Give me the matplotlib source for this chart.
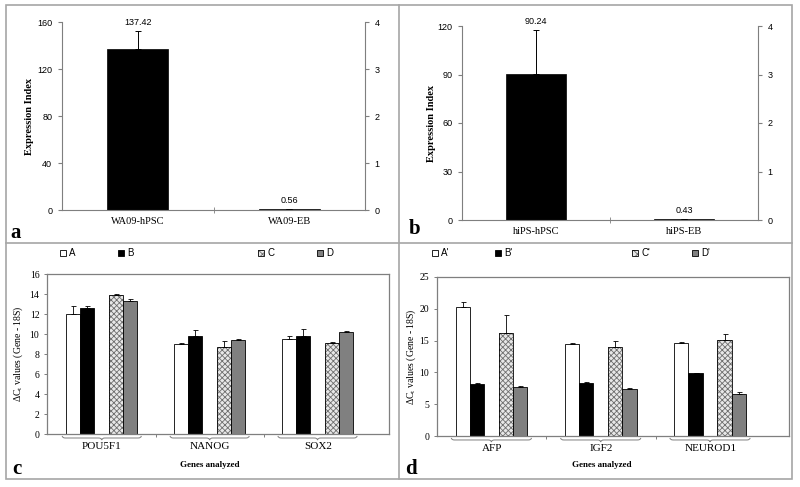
import numpy as np
import matplotlib
matplotlib.use("Agg")
import matplotlib.pyplot as plt
from matplotlib.patches import Rectangle, PathPatch
from matplotlib.path import Path
from matplotlib.lines import Line2D
import matplotlib.transforms as mtransforms

plt.rcParams['mathtext.fontset'] = 'custom'
plt.rcParams['mathtext.rm'] = 'Liberation Serif'
plt.rcParams['hatch.linewidth'] = 0.6

SERIF = 'Liberation Serif'
SANS = 'Liberation Sans'

# ---------------- data ----------------
a_labels = ['WA09-hPSC', 'WA09-EB']
a_values = [137.42, 0.56]
a_errors = [15.2, 0.3]

b_labels = ['hiPS-hPSC', 'hiPS-EB']
b_values = [90.24, 0.43]
b_errors = [27.3, 0.4]

c_genes = ['POU5F1', 'NANOG', 'SOX2']
c_series = ['A', 'B', 'C', 'D']
c_A = [12.05, 9.0, 9.5]
c_B = [12.65, 9.8, 9.85]
c_C = [13.95, 8.7, 9.15]
c_D = [13.3, 9.4, 10.2]
c_A_err = [0.75, 0.1, 0.3]
c_B_err = [0.2, 0.6, 0.62]
c_C_err = [0.1, 0.58, 0.1]
c_D_err = [0.18, 0.15, 0.15]

d_genes = ['AFP', 'IGF2', 'NEUROD1']
d_series = ["A'", "B'", "C'", "D'"]
d_A = [20.3, 14.5, 14.6]
d_B = [8.25, 8.35, 9.9]
d_C = [16.2, 14.05, 15.1]
d_D = [7.7, 7.45, 6.55]
d_A_err = [0.7, 0.05, 0.2]
d_B_err = [0.05, 0.08, 0.08]
d_C_err = [2.8, 0.85, 1.0]
d_D_err = [0.15, 0.05, 0.38]

W, H = 800, 487
fig = plt.figure(figsize=(8, 4.87), dpi=100)

def ax_at(l, r, t, b):
    return fig.add_axes([l / W, 1 - b / H, (r - l) / W, (b - t) / H])

def fx(x):
    return x / W

def fy(y):
    return 1 - y / H

GRAY = '#7f7f7f'
FRAME = '#a6a6a6'

# outer frame and dividers
fig.add_artist(Rectangle((fx(6), fy(479)), fx(792) - fx(6), fy(5) - fy(479),
                         transform=fig.transFigure, fill=False, edgecolor=FRAME, lw=1.2))
fig.add_artist(Line2D([fx(399), fx(399)], [fy(5), fy(479)], transform=fig.transFigure,
                      color=FRAME, lw=1.2))
fig.add_artist(Line2D([fx(6), fx(792)], [fy(243), fy(243)], transform=fig.transFigure,
                      color=FRAME, lw=1.2))


def top_panel(box, labels, values, errors, ymax, ystep, letter_xy, ylab_x, letter):
    ax = ax_at(*box)
    x = np.arange(len(labels))
    ax.bar(x, values, width=0.4, color='black', edgecolor='black', lw=0.5)
    ax.errorbar(x, values, yerr=[np.zeros(len(values)), errors], fmt='none',
                ecolor='black', elinewidth=0.7, capsize=2.5, capthick=0.7)
    ax.set_xlim(-0.5, 1.5)
    ax.set_ylim(0, ymax)
    ax.set_yticks(np.arange(0, ymax + 0.1, ystep))
    ax.set_yticklabels([f'{int(v)}' for v in np.arange(0, ymax + 0.1, ystep)],
                       family=SANS, fontsize=6.5)
    ax.set_xticks(x)
    ax.set_xticklabels(labels, family=SERIF, fontsize=7.5)
    ax.tick_params(axis='x', which='major', length=0, pad=5)
    ax.set_xticks([0.5], minor=True)
    ax.tick_params(axis='x', which='minor', length=4, direction='inout', color=GRAY)
    ax.tick_params(axis='y', length=3, color=GRAY, width=0.8, pad=4)
    for s in ['top', 'right']:
        ax.spines[s].set_visible(False)
    for s in ['left', 'bottom']:
        ax.spines[s].set_color(GRAY)
    for xi, v, e in zip(x, values, errors):
        ax.text(xi, v + e + ymax * 0.02, f'{v:.2f}', ha='center', va='bottom',
                family=SANS, fontsize=6.5)
    ax2 = ax.twinx()
    ax2.set_ylim(0, 4)
    ax2.set_yticks(range(5))
    ax2.set_yticklabels([str(i) for i in range(5)], family=SANS, fontsize=6.5)
    ax2.tick_params(axis='y', length=3, color=GRAY, width=0.8, pad=4)
    for s in ['top', 'left', 'bottom']:
        ax2.spines[s].set_visible(False)
    ax2.spines['right'].set_color(GRAY)
    fig.text(fx(ylab_x), (fy(box[2]) + fy(box[3])) / 2, 'Expression Index', rotation=90,
             ha='center', va='center', family=SERIF, fontweight='bold', fontsize=7.5)
    fig.text(fx(letter_xy[0]), fy(letter_xy[1]), letter, ha='left', va='baseline',
             family=SERIF, fontweight='bold', fontsize=15)
    return ax


top_panel((62, 365, 22, 210), a_labels, a_values, a_errors, 160, 40, (10, 238), 30, 'a')
top_panel((462, 758, 26, 220), b_labels, b_values, b_errors, 120, 30, (409, 234), 432, 'b')


def draw_brace(ax, x0, x1, y0=-0.012, h=0.026):
    trans = mtransforms.blended_transform_factory(ax.transData, ax.transAxes)
    mid = (x0 + x1) / 2
    e = (x1 - x0) * 0.04
    ym = y0 - h / 2
    yb = y0 - h
    verts = [(x0, y0), (x0, ym), (x0 + e, ym),
             (mid - e, ym), (mid, ym), (mid, yb),
             (mid, ym), (mid + e, ym),
             (x1 - e, ym), (x1, ym), (x1, y0)]
    codes = [Path.MOVETO, Path.CURVE3, Path.CURVE3,
             Path.LINETO, Path.CURVE3, Path.CURVE3,
             Path.CURVE3, Path.CURVE3,
             Path.LINETO, Path.CURVE3, Path.CURVE3]
    p = PathPatch(Path(verts, codes), fill=False, edgecolor=GRAY, lw=0.7,
                  transform=trans, clip_on=False)
    ax.add_patch(p)


def bottom_panel(box, genes, series, vals, errs, ymax, ystep, xlim, legend_x, legend_y,
                 ylab_x, letter_xy, letter, gen_x):
    ax = ax_at(*box)
    x = np.arange(len(genes))
    offsets = [-0.265, -0.135, 0.13, 0.26]
    width = 0.13
    colors = ['white', 'black', '#e8e8e8', '#808080']
    for i in range(4):
        xs = x + offsets[i]
        if i == 2:
            ax.bar(xs, vals[i], width=width, color='#e8e8e8', edgecolor='#6e6e6e',
                   hatch='xxxxxx', lw=0)
            ax.bar(xs, vals[i], width=width, fill=False, edgecolor='black', lw=0.6)
        else:
            ax.bar(xs, vals[i], width=width, color=colors[i],
                   edgecolor='black', lw=0.6)
        ax.errorbar(xs, vals[i], yerr=[np.zeros(len(genes)), errs[i]], fmt='none',
                    ecolor='black', elinewidth=0.6, capsize=1.8, capthick=0.6)
    ax.set_xlim(*xlim)
    ax.set_ylim(0, ymax)
    yt = np.arange(0, ymax + 0.1, ystep)
    ax.set_yticks(yt)
    ax.set_yticklabels([f'{int(v)}' for v in yt], family=SERIF, fontsize=7)
    ax.tick_params(axis='y', length=2.5, color=GRAY, width=0.7, pad=3)
    ax.set_xticks([0.5, 1.5])
    ax.set_xticklabels([])
    ax.tick_params(axis='x', length=2.5, color=GRAY, width=0.7)
    for s in ax.spines.values():
        s.set_color(GRAY)
        s.set_linewidth(0.9)
    trans = mtransforms.blended_transform_factory(ax.transData, ax.transAxes)
    for xi, g in zip(x, genes):
        draw_brace(ax, xi + offsets[0] - width * 0.8, xi + offsets[3] + width * 0.8)
        ax.text(xi, -0.078, g, transform=trans, ha='center', va='center',
                family=SERIF, fontsize=8)
    fig.text(fx(gen_x), fy(465), 'Genes analyzed', ha='center', va='center',
             family=SERIF, fontweight='bold', fontsize=6.5)
    fig.text(fx(ylab_x), (fy(box[2]) + fy(box[3])) / 2,
             r'ΔC$_\mathregular{t}$ values (Gene - 18S)', rotation=90,
             ha='center', va='center', family=SERIF, fontsize=7)
    fig.text(fx(letter_xy[0]), fy(letter_xy[1]), letter, ha='left', va='baseline',
             family=SERIF, fontweight='bold', fontsize=15)
    # legend
    for i in range(4):
        lx = legend_x[i]
        sq = 6
        if i == 2:
            fig.add_artist(Rectangle((fx(lx), fy(legend_y + sq / 2)), sq / W, sq / H,
                                     transform=fig.transFigure, facecolor='#e8e8e8',
                                     edgecolor='#6e6e6e', hatch='xxxx', lw=0))
            fig.add_artist(Rectangle((fx(lx), fy(legend_y + sq / 2)), sq / W, sq / H,
                                     transform=fig.transFigure, fill=False,
                                     edgecolor='black', lw=0.6))
        else:
            fig.add_artist(Rectangle((fx(lx), fy(legend_y + sq / 2)), sq / W, sq / H,
                                     transform=fig.transFigure, facecolor=colors[i],
                                     edgecolor='black', lw=0.6))
        fig.text(fx(lx + sq + 3), fy(legend_y), series[i], ha='left', va='center',
                 family=SANS, fontsize=7)
    return ax


bottom_panel((47, 389, 274, 434), c_genes, c_series,
             [c_A, c_B, c_C, c_D], [c_A_err, c_B_err, c_C_err, c_D_err],
             16, 2, (-0.51, 2.66), [60, 118, 258, 317], 253, 18, (12, 474), 'c', 210)
bottom_panel((437, 789, 277, 436), d_genes, d_series,
             [d_A, d_B, d_C, d_D], [d_A_err, d_B_err, d_C_err, d_D_err],
             25, 5, (-0.5, 2.72), [432, 495, 632, 692], 253, 411, (405, 474), 'd', 602)

fig.savefig('out.png', dpi=100)
